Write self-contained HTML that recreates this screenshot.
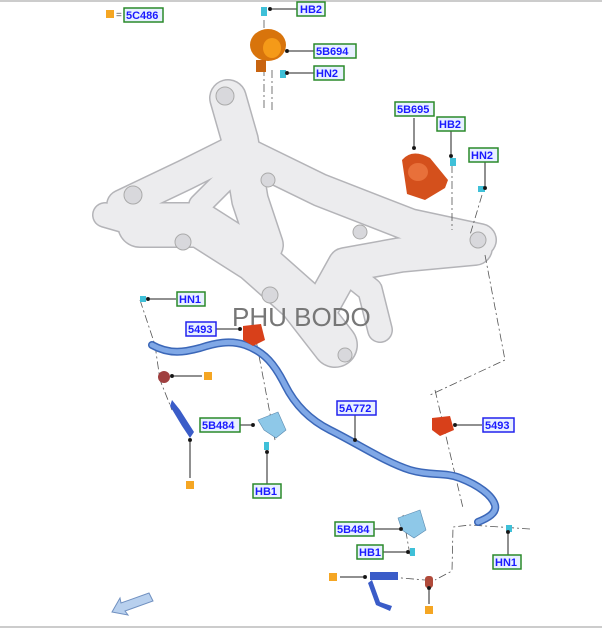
<!DOCTYPE html>
<html><head><meta charset="utf-8"><style>
html,body{margin:0;padding:0;background:#fff}
svg{display:block}
.lb{font-family:"Liberation Sans",sans-serif;font-weight:bold;font-size:11px;fill:#1a1aff}
</style></head><body>
<svg width="602" height="628" viewBox="0 0 602 628" xmlns="http://www.w3.org/2000/svg">
<line x1="0" y1="1" x2="602" y2="1" stroke="#ccc" stroke-width="2"/>
<line x1="0" y1="627" x2="602" y2="627" stroke="#ccc" stroke-width="2"/>
<!-- subframe -->
<g stroke-linecap="round" stroke-linejoin="round" fill="none">
 <g stroke="#b4b4b8">
  <polyline points="228,98 240,140 250,200 265,245" stroke-width="38"/>
  <polyline points="122,205 185,175 235,150" stroke-width="32"/>
  <polyline points="238,150 320,190 410,225 480,240" stroke-width="34"/>
  <polyline points="140,225 200,225 255,260 300,300 335,345" stroke-width="46"/>
  <polyline points="320,310 345,265 400,255 475,248" stroke-width="36"/>
  <polyline points="200,205 235,170" stroke-width="24"/>
  <polyline points="105,215 140,225" stroke-width="26"/>
  <polyline points="345,270 370,290 380,330" stroke-width="26"/>
 </g>
 <g stroke="#ececee">
  <polyline points="228,98 240,140 250,200 265,245" stroke-width="35"/>
  <polyline points="122,205 185,175 235,150" stroke-width="29"/>
  <polyline points="238,150 320,190 410,225 480,240" stroke-width="31"/>
  <polyline points="140,225 200,225 255,260 300,300 335,345" stroke-width="43"/>
  <polyline points="320,310 345,265 400,255 475,248" stroke-width="33"/>
  <polyline points="200,205 235,170" stroke-width="21"/>
  <polyline points="105,215 140,225" stroke-width="23"/>
  <polyline points="345,270 370,290 380,330" stroke-width="23"/>
 </g>
</g>
<g fill="#d8d8dc" stroke="#aaa" stroke-width="1">
 <circle cx="225" cy="96" r="9"/><circle cx="183" cy="242" r="8"/><circle cx="268" cy="180" r="7"/>
 <circle cx="270" cy="295" r="8"/><circle cx="360" cy="232" r="7"/><circle cx="478" cy="240" r="8"/>
 <circle cx="133" cy="195" r="9"/><circle cx="345" cy="355" r="7"/>
</g>
<text x="232" y="326" font-family="Liberation Sans,sans-serif" font-size="26" fill="#777">PHU BODO</text>
<!-- dashed lines -->
<g stroke="#555" stroke-width="0.8" stroke-dasharray="8,3,2,3" fill="none">
 <line x1="264" y1="20" x2="264" y2="110"/><line x1="272" y1="70" x2="272" y2="110"/>
 <line x1="452" y1="165" x2="452" y2="230"/><line x1="482" y1="195" x2="470" y2="235"/>
 <polyline points="485,255 505,360 430,395"/>
 <polyline points="140,300 155,345 160,380 172,410"/>
 <line x1="256" y1="340" x2="275" y2="440"/>
 <line x1="435" y1="390" x2="463" y2="508"/>
 <polyline points="530,529 470,525 453,527 452,571 435,580"/>
 <line x1="390" y1="577" x2="425" y2="580"/>
 <line x1="403" y1="515" x2="410" y2="555"/>
</g>
<!-- stabilizer bar -->
<path d="M152,345 C170,355 185,352 200,348 C215,343 230,340 245,345 C265,352 275,365 285,385 C295,405 310,420 330,430 C360,445 385,462 410,470 C430,476 445,472 460,478 C478,485 492,495 495,505 C497,513 488,518 478,522" fill="none" stroke="#3b67b8" stroke-width="8" stroke-linecap="round"/>
<path d="M152,345 C170,355 185,352 200,348 C215,343 230,340 245,345 C265,352 275,365 285,385 C295,405 310,420 330,430 C360,445 385,462 410,470 C430,476 445,472 460,478 C478,485 492,495 495,505 C497,513 488,518 478,522" fill="none" stroke="#80a8e6" stroke-width="5" stroke-linecap="round"/>
<!-- parts -->
<g>
 <ellipse cx="268" cy="45" rx="18" ry="16" fill="#d8740c"/><ellipse cx="272" cy="48" rx="9" ry="10" fill="#f59a18"/>
 <rect x="256" y="60" width="10" height="12" fill="#c86410"/>
 <path d="M402,160 q10,-12 28,-2 l18,22 l-3,8 l-20,12 l-18,-6 z" fill="#d4501c"/>
 <ellipse cx="418" cy="172" rx="10" ry="9" fill="#e8703a"/>
 <path d="M243,326 l18,-2 l4,16 l-12,6 l-10,-6z" fill="#d8401a"/>
 <path d="M432,418 l18,-2 l4,14 l-14,6 l-8,-6z" fill="#d8401a"/>
 <circle cx="164" cy="377" r="6" fill="#a04040"/>
 <rect x="425" y="576" width="8" height="12" rx="3" fill="#b04a3a"/>
 <path d="M172,400 l8,10 l14,22 l-4,6 l-8,-12 l-12,-20z" fill="#3a5cc8"/>
 <rect x="370" y="572" width="28" height="8" fill="#3a5cc8"/>
 <path d="M372,580 l8,22 l12,4 l-2,5 l-14,-6 l-8,-22z" fill="#3a5cc8"/>
 <path d="M258,420 l20,-8 l8,18 l-10,8 l-12,-8z" fill="#8ec8e8" stroke="#5a8ab0" stroke-width="0.6"/>
 <path d="M398,518 l22,-8 l6,20 l-12,8 l-12,-8z" fill="#8ec8e8" stroke="#5a8ab0" stroke-width="0.6"/>
</g>
<!-- cyan fasteners -->
<g fill="#3fc0d8">
 <rect x="261" y="7" width="6" height="9"/><rect x="280" y="70" width="6" height="8"/>
 <rect x="450" y="158" width="6" height="8"/><rect x="478" y="186" width="7" height="6"/>
 <rect x="140" y="296" width="6" height="6"/><rect x="264" y="442" width="5" height="8"/>
 <rect x="410" y="548" width="5" height="8"/><rect x="506" y="525" width="6" height="7"/>
</g>
<!-- orange squares -->
<g fill="#f5a623">
 <rect x="106" y="10" width="8" height="8"/><rect x="204" y="372" width="8" height="8"/>
 <rect x="186" y="481" width="8" height="8"/><rect x="329" y="573" width="8" height="8"/>
 <rect x="425" y="606" width="8" height="8"/>
</g>
<text x="116" y="18" font-family="Liberation Sans,sans-serif" font-size="10" fill="#555">=</text>
<!-- leader lines -->
<g stroke="#222" stroke-width="1" fill="#111">
 <line x1="270" y1="9" x2="297" y2="9"/><circle cx="270" cy="9" r="1.5"/>
 <line x1="287" y1="51" x2="314" y2="51"/><circle cx="287" cy="51" r="1.5"/>
 <line x1="287" y1="73" x2="314" y2="73"/><circle cx="287" cy="73" r="1.5"/>
 <line x1="414" y1="118" x2="414" y2="148"/><circle cx="414" cy="148" r="1.5"/>
 <line x1="451" y1="129" x2="451" y2="156"/><circle cx="451" cy="156" r="1.5"/>
 <line x1="485" y1="161" x2="485" y2="188"/><circle cx="485" cy="188" r="1.5"/>
 <line x1="148" y1="299" x2="176" y2="299"/><circle cx="148" cy="299" r="1.5"/>
 <line x1="216" y1="329" x2="240" y2="329"/><circle cx="240" cy="329" r="1.5"/>
 <line x1="172" y1="376" x2="202" y2="376"/><circle cx="172" cy="376" r="1.5"/>
 <line x1="355" y1="415" x2="355" y2="440"/><circle cx="355" cy="440" r="1.5"/>
 <line x1="455" y1="425" x2="482" y2="425"/><circle cx="455" cy="425" r="1.5"/>
 <line x1="240" y1="425" x2="253" y2="425"/><circle cx="253" cy="425" r="1.5"/>
 <line x1="267" y1="452" x2="267" y2="484"/><circle cx="267" cy="452" r="1.5"/>
 <line x1="190" y1="440" x2="190" y2="478"/><circle cx="190" cy="440" r="1.5"/>
 <line x1="374" y1="529" x2="401" y2="529"/><circle cx="401" cy="529" r="1.5"/>
 <line x1="383" y1="552" x2="408" y2="552"/><circle cx="408" cy="552" r="1.5"/>
 <line x1="508" y1="532" x2="508" y2="556"/><circle cx="508" cy="532" r="1.5"/>
 <line x1="340" y1="577" x2="365" y2="577"/><circle cx="365" cy="577" r="1.5"/>
 <line x1="429" y1="588" x2="429" y2="604"/><circle cx="429" cy="588" r="1.5"/>
</g>
<!-- labels -->
<g stroke-width="1.5" fill="#e8f0ff">
 <rect x="124" y="8" width="39" height="14" stroke="#2a8a2a"/>
 <rect x="297" y="2" width="28" height="14" stroke="#2a8a2a"/>
 <rect x="314" y="44" width="42" height="14" stroke="#2a8a2a"/>
 <rect x="314" y="66" width="30" height="14" stroke="#2a8a2a"/>
 <rect x="395" y="102" width="39" height="14" stroke="#2a8a2a"/>
 <rect x="437" y="117" width="28" height="14" stroke="#2a8a2a"/>
 <rect x="469" y="148" width="29" height="14" stroke="#2a8a2a"/>
 <rect x="177" y="292" width="28" height="14" stroke="#2a8a2a"/>
 <rect x="186" y="322" width="30" height="14" stroke="#2222ee"/>
 <rect x="337" y="401" width="39" height="14" stroke="#2222ee"/>
 <rect x="483" y="418" width="31" height="14" stroke="#2222ee"/>
 <rect x="200" y="418" width="40" height="14" stroke="#2a8a2a"/>
 <rect x="253" y="484" width="28" height="14" stroke="#2a8a2a"/>
 <rect x="335" y="522" width="39" height="14" stroke="#2a8a2a"/>
 <rect x="357" y="545" width="26" height="14" stroke="#2a8a2a"/>
 <rect x="493" y="555" width="28" height="14" stroke="#2a8a2a"/>
</g>
<g class="lb">
 <text x="126" y="19">5C486</text><text x="300" y="13">HB2</text><text x="316" y="55">5B694</text>
 <text x="316" y="77">HN2</text><text x="397" y="113">5B695</text><text x="439" y="128">HB2</text>
 <text x="471" y="159">HN2</text><text x="179" y="303">HN1</text><text x="188" y="333">5493</text>
 <text x="339" y="412">5A772</text><text x="485" y="429">5493</text><text x="202" y="429">5B484</text>
 <text x="255" y="495">HB1</text><text x="337" y="533">5B484</text><text x="359" y="556">HB1</text>
 <text x="495" y="566">HN1</text>
</g>
<!-- arrow -->
<path d="M112,612 l8,-14 l1,5 l28,-10 l4,8 l-28,10 l3,4z" fill="#b8d0ee" stroke="#7090c0" stroke-width="1"/>
</svg>
</body></html>
